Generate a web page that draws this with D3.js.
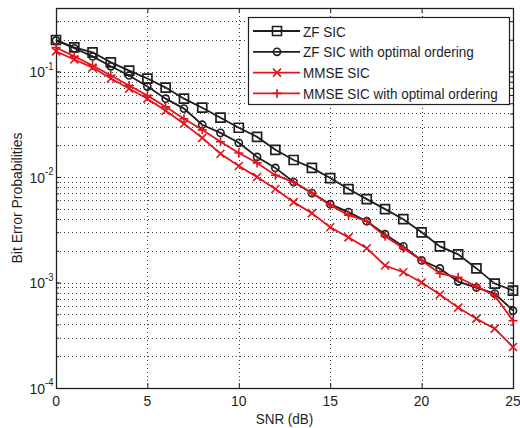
<!DOCTYPE html>
<html>
<head>
<meta charset="utf-8">
<script src="https://cdnjs.cloudflare.com/ajax/libs/d3/7.8.5/d3.min.js"></script>
<style>
  html, body { margin: 0; padding: 0; background: #fff; }
  svg { display: block; font-family: "Liberation Sans", Arial, sans-serif; }
</style>
</head>
<body>
<svg id="chart" width="520" height="428"></svg>
<script>
// data
var snrDb = [0,1,2,3,4,5,6,7,8,9,10,11,12,13,14,15,16,17,18,19,20,21,22,23,24,25];
var zfSic = [0.199,0.169,0.152,0.122,0.102,0.0858,0.0704,0.0553,0.0454,0.0365,0.0293,0.0240,0.0181,
             0.0145,0.0122,0.00978,0.00769,0.00617,0.00496,0.00398,0.00299,0.00220,0.00185,0.00136,0.000977,0.000839];
var zfSicOpt = [0.197,0.166,0.139,0.112,0.0917,0.0720,0.0553,0.0445,0.0313,0.0262,0.0211,0.0155,0.0122,
                0.00896,0.00704,0.00553,0.00465,0.00381,0.00287,0.00220,0.00162,0.00136,0.00102,0.000896,0.000785,0.000541];
var mmseSic = [0.155,0.130,0.109,0.0858,0.0689,0.0553,0.0425,0.0320,0.0235,0.0166,0.0127,0.0100,0.00769,
               0.00578,0.00454,0.00334,0.00268,0.00211,0.00145,0.00125,0.00100,0.000769,0.000578,0.000454,0.000365,0.000245];
var mmseSicOpt = [0.169,0.139,0.114,0.0917,0.0736,0.0591,0.0464,0.0357,0.0280,0.0216,0.0169,0.0136,0.0104,
                  0.00896,0.00704,0.00541,0.00435,0.00381,0.00274,0.00211,0.00162,0.00122,0.00112,0.000916,0.000752,0.000434];
var seriesNames = ["ZF SIC", "ZF SIC with optimal ordering", "MMSE SIC", "MMSE SIC with optimal ordering"];
var xTicks = [0,5,10,15,20,25];
var yTicks = [1e-4,1e-3,1e-2,1e-1];
var yTickExp = ["-4","-3","-2","-1"];
var xTitle = "SNR (dB)", yTitle = "Bit Error Probabilities";

var svg = d3.select("#chart"),
    margin = {top: 8, right: 7, bottom: 40, left: 56},
    width = +svg.attr("width") - margin.left - margin.right,
    height = +svg.attr("height") - margin.top - margin.bottom;

var xscale = d3.scaleLinear().domain([0, 25]).range([margin.left, margin.left + width]);
var yscale = d3.scaleLog().domain([1e-4, 0.4]).range([margin.top + height, margin.top]);

var ink = "#1e1e1e", red = "#e2141c", squeeze = 0.9;

// text is a bit narrow in the picture, so squeeze it horizontally
function put_text(x, y, str, size, anchor) {
    return svg.append("text")
        .attr("transform", "translate(" + x + "," + y + ") scale(" + squeeze + ",1)")
        .attr("font-size", size)
        .attr("fill", ink)
        .attr("text-anchor", anchor || "start")
        .text(str);
}

// grid (matlab dotted)
var minor = [];
yscale.ticks().forEach(function(v) { if (v > 1e-4 && v < 0.4) minor.push(v); });
var grid = svg.append("g")
    .attr("stroke", "#3a3a3a")
    .attr("stroke-width", 1)
    .attr("stroke-dasharray", "1,3");
grid.selectAll(".hg").data(minor).enter().append("line")
    .attr("x1", margin.left).attr("x2", margin.left + width)
    .attr("y1", function(d) { return Math.round(yscale(d)) + 0.5; })
    .attr("y2", function(d) { return Math.round(yscale(d)) + 0.5; });
grid.selectAll(".vg").data(xTicks.slice(1, -1)).enter().append("line")
    .attr("y1", margin.top).attr("y2", margin.top + height)
    .attr("x1", function(d) { return Math.round(xscale(d)) + 0.5; })
    .attr("x2", function(d) { return Math.round(xscale(d)) + 0.5; });

// axes, ticks pointing inward on all four sides
svg.append("g").attr("transform", "translate(0," + (margin.top + height) + ")")
    .call(d3.axisBottom(xscale).tickValues(xTicks).tickSize(-5).tickFormat(""));
svg.append("g").attr("transform", "translate(0," + margin.top + ")")
    .call(d3.axisTop(xscale).tickValues(xTicks).tickSize(-5).tickFormat(""));
svg.append("g").attr("transform", "translate(" + margin.left + ",0)")
    .call(d3.axisLeft(yscale).tickValues(minor).tickSize(-3).tickFormat(""));
svg.append("g").attr("transform", "translate(" + (margin.left + width) + ",0)")
    .call(d3.axisRight(yscale).tickValues(minor).tickSize(-3).tickFormat(""));
svg.append("g").attr("transform", "translate(" + margin.left + ",0)")
    .call(d3.axisLeft(yscale).tickValues(yTicks).tickSize(-5).tickFormat(""));
svg.append("g").attr("transform", "translate(" + (margin.left + width) + ",0)")
    .call(d3.axisRight(yscale).tickValues(yTicks).tickSize(-5).tickFormat(""));
svg.selectAll(".domain").attr("stroke", "none");
svg.selectAll(".tick line").attr("stroke", ink);

svg.append("rect")
    .attr("x", margin.left + 0.5).attr("y", margin.top + 0.5)
    .attr("width", width).attr("height", height)
    .attr("fill", "none").attr("stroke", ink).attr("stroke-width", 1.3);

// tick labels
xTicks.forEach(function(t) {
    put_text(xscale(t), margin.top + height + 18, t, 15.5, "middle");
});
yTicks.forEach(function(t, i) {
    put_text(margin.left - 11, yscale(t) + 5.5, "10", 15.5, "end");
    put_text(margin.left - 11, yscale(t) - 2, yTickExp[i], 10.5, "start");
});

// axis titles
put_text(margin.left + width / 2, 424, xTitle, 15, "middle");
svg.append("text")
    .attr("transform", "translate(22," + (margin.top + height / 2) + ") scale(1," + squeeze + ") rotate(-90)")
    .attr("font-size", 15.5).attr("fill", ink).attr("text-anchor", "middle")
    .text(yTitle);

// markers
function marker_path(kind) {
    if (kind == "square") return "M-4.5,-4.5H4.5V4.5H-4.5Z";
    if (kind == "circle") return d3.symbol().type(d3.symbolCircle).size(40)();
    if (kind == "x") return "M-4,-4L4,4M-4,4L4,-4";
    return "M-4.5,0H4.5M0,-4.5V4.5";
}

var series = [
    {name: seriesNames[0], values: zfSic, color: ink, marker: "square"},
    {name: seriesNames[1], values: zfSicOpt, color: ink, marker: "circle"},
    {name: seriesNames[2], values: mmseSic, color: red, marker: "x"},
    {name: seriesNames[3], values: mmseSicOpt, color: red, marker: "plus"}
];

var line = d3.line()
    .x(function(d, i) { return xscale(snrDb[i]); })
    .y(function(d) { return yscale(d); });

series.forEach(function(s) {
    var g = svg.append("g");
    g.append("path")
        .attr("d", line(s.values))
        .attr("fill", "none")
        .attr("stroke", s.color)
        .attr("stroke-width", 1.8);
    g.selectAll("path.mk").data(s.values).enter().append("path")
        .attr("class", "mk")
        .attr("transform", function(d, i) { return "translate(" + xscale(snrDb[i]) + "," + yscale(d) + ")"; })
        .attr("d", marker_path(s.marker))
        .attr("fill", "none")
        .attr("stroke", s.color)
        .attr("stroke-width", s.marker == "square" ? 1.7 : 1.6);
});

// legend
var lg = svg.append("g");
lg.append("rect")
    .attr("x", 248.5).attr("y", 17.5).attr("width", 261).attr("height", 87)
    .attr("fill", "#fff").attr("stroke", ink).attr("stroke-width", 1.2);
series.forEach(function(s, i) {
    var y = 31 + i * 20.8;
    lg.append("line")
        .attr("x1", 253).attr("x2", 300).attr("y1", y).attr("y2", y)
        .attr("stroke", s.color).attr("stroke-width", 1.8);
    lg.append("path")
        .attr("transform", "translate(277," + y + ")")
        .attr("d", marker_path(s.marker))
        .attr("fill", "none").attr("stroke", s.color).attr("stroke-width", 1.6);
    put_text(303, y + 5.5, s.name, 15, "start");
});
</script>
